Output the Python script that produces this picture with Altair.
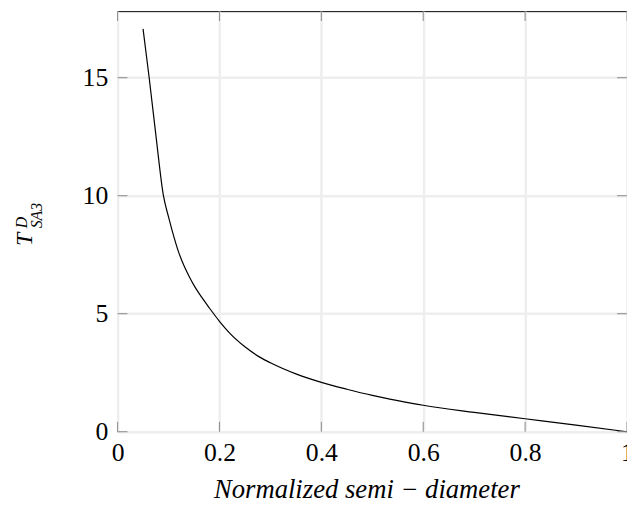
import altair as alt
import pandas as pd

# ---- data ----
x_vals = [0.05, 0.062, 0.075, 0.09, 0.1, 0.11, 0.12, 0.13, 0.14, 0.15, 0.165, 0.18,
          0.2, 0.22, 0.25, 0.28, 0.3, 0.35, 0.4, 0.45, 0.5, 0.55, 0.6, 0.7, 0.8, 0.9, 1.0]
y_vals = [17.07, 15.0, 12.6, 10.0, 9.1, 8.3, 7.6, 7.05, 6.6, 6.2, 5.7, 5.25,
          4.68, 4.18, 3.6, 3.15, 2.92, 2.45, 2.09, 1.8, 1.54, 1.32, 1.12, 0.82, 0.55, 0.28, 0.0]
x_ticks = [0, 0.2, 0.4, 0.6, 0.8, 1.0]
y_ticks = [0, 5, 10, 15]
x_title = "Normalized semi − diameter"
y_title_main = "T"
y_title_sup = "D"
y_title_sub = "SA3"

# ---- layout / style ----
W, H = 516, 426
XDOM = [0, 1]
YDOM = [0, 17.82]
TICK = 10
SERIF = "Liberation Serif"
TICK_COLOR = "#8a8a8a"
GRID_COLOR = "#eeeeee"

curve = pd.DataFrame({"x": x_vals, "y": y_vals})
xt = pd.DataFrame({"x": x_ticks})
yt = pd.DataFrame({"y": y_ticks})

xscale = alt.Scale(domain=XDOM, nice=False, zero=False)
yscale = alt.Scale(domain=YDOM, nice=False, zero=False)

x_axis = alt.Axis(
    values=x_ticks, format="~g", grid=True, ticks=False, tickSize=0, domain=False,
    labelPadding=8, labelFont=SERIF, labelFontSize=26, labelColor="black",
    labelFlush=False, labelOverlap=False,
    gridColor=GRID_COLOR, gridWidth=2.5,
    title=x_title, titleFont=SERIF, titleFontSize=27, titleFontStyle="italic",
    titleFontWeight="normal", titleColor="black", titleBaseline="alphabetic",
    titleY=67, titleX=252, titleAlign="center",
)
y_axis = alt.Axis(
    values=y_ticks, format="d", grid=True, ticks=False, tickSize=0, domain=False,
    labelPadding=10, labelFont=SERIF, labelFontSize=26, labelColor="black",
    labelOverlap=False, labelFlush=False,
    gridColor=GRID_COLOR, gridWidth=2.5, title=None,
)

line = alt.Chart(curve).mark_line(color="black", strokeWidth=1.2, interpolate="monotone").encode(
    x=alt.X("x:Q", scale=xscale, axis=x_axis),
    y=alt.Y("y:Q", scale=yscale, axis=y_axis),
)

rule_kw = dict(color=TICK_COLOR, strokeWidth=1)
tick_bottom = alt.Chart(xt).mark_rule(**rule_kw).encode(
    x=alt.X("x:Q", scale=xscale, axis=x_axis), y=alt.value(H), y2=alt.value(H - TICK))
tick_top = alt.Chart(xt).mark_rule(**rule_kw).encode(
    x=alt.X("x:Q", scale=xscale, axis=x_axis), y=alt.value(0), y2=alt.value(TICK))
tick_left = alt.Chart(yt).mark_rule(**rule_kw).encode(
    y=alt.Y("y:Q", scale=yscale, axis=y_axis), x=alt.value(0), x2=alt.value(TICK))
tick_right = alt.Chart(yt).mark_rule(**rule_kw).encode(
    y=alt.Y("y:Q", scale=yscale, axis=y_axis), x=alt.value(W - TICK), x2=alt.value(W))


def title_part(txt, size, xpos, ypos):
    return alt.Chart(pd.DataFrame({"t": [txt]})).mark_text(
        font=SERIF, fontSize=size, fontStyle="italic", angle=270,
        align="left", baseline="alphabetic", color="black",
    ).encode(text="t:N", x=alt.value(xpos), y=alt.value(ypos))


yt_main = title_part(y_title_main, 24, -87, 238)
yt_sup = title_part(y_title_sup, 16, -92, 220)
yt_sub = title_part(y_title_sub, 16, -77, 220)

chart = alt.layer(
    line, tick_bottom, tick_top, tick_left, tick_right, yt_main, yt_sup, yt_sub
).properties(
    width=W, height=H,
    autosize=alt.AutoSizeParams(type="none"),
    padding={"left": 111, "top": 0, "right": 0, "bottom": 69},
    background="white",
).configure_view(stroke="black", strokeWidth=1)

chart.save("out.html", embed_options={"renderer": "svg", "actions": False})
